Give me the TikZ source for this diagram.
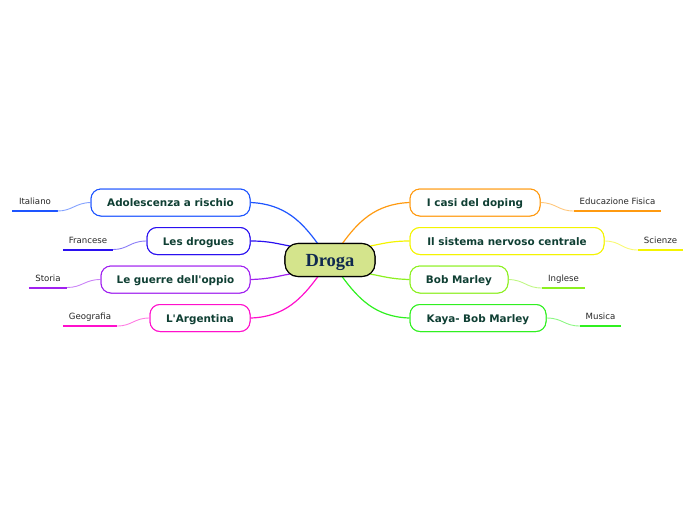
\documentclass[tikz,border=0pt]{standalone}
\usepackage{fontspec}
\setmainfont{DejaVu Sans}
\newfontfamily\nodefont{DejaVu Sans}
\newfontfamily\titlefont{Liberation Serif}
\definecolor{cBlue}{HTML}{1E55FF}
\definecolor{cIndigo}{HTML}{2A10F0}
\definecolor{cPurple}{HTML}{A020F0}
\definecolor{cMagenta}{HTML}{FF10CC}
\definecolor{cOrange}{HTML}{FF9A10}
\definecolor{cYellow}{HTML}{F4F400}
\definecolor{cLime}{HTML}{8CF020}
\definecolor{cGreen}{HTML}{30F020}
\definecolor{txt}{HTML}{0F3F33}
\definecolor{titletxt}{HTML}{10294F}
\definecolor{centerfill}{HTML}{D4E48C}
\tikzset{
  topic/.style={draw=#1, line width=1pt, rounded corners=10pt, fill=white,
    minimum height=27pt, inner sep=0pt, text=txt, text height=10pt, text depth=1.6pt,
    font=\nodefont\fontsize{10.4}{12}\selectfont\bfseries},
  center/.style={draw=black, line width=1.1pt, fill=centerfill, rounded corners=13pt,
    minimum width=90pt, minimum height=33pt, inner sep=0pt, text height=13pt, text depth=1pt,
    font=\titlefont\fontsize{18.5}{21}\selectfont\bfseries, text=titletxt},
  link/.style={draw=#1, line width=1.2pt},
  leaf/.style={inner xsep=0pt, inner ysep=0pt, text height=6pt, text depth=6pt,
    font=\fontsize{8.6}{10}\selectfont, text=black!85},
  uline/.style={draw=#1, line width=2pt},
  thin/.style={draw=#1!55, line width=0.9pt}
}
\begin{document}
\begin{tikzpicture}[x=1pt,y=-1pt]
\useasboundingbox (0,0) rectangle (696,520);
% central
\node[center] (droga) at (330,260) {Droga};
% topic nodes left
\node[topic=cBlue, minimum width=159pt] (adol) at (170.5,202.5) {Adolescenza a rischio};
\node[topic=cIndigo, minimum width=103pt] (drog) at (198.5,241) {Les drogues};
\node[topic=cPurple, minimum width=149pt] (guer) at (175.5,279.5) {Le guerre dell'oppio};
\node[topic=cMagenta, minimum width=100pt] (arg) at (200,318) {L'Argentina};
% topic nodes right
\node[topic=cOrange, minimum width=130pt] (dop) at (475,202.5) {I casi del doping};
\node[topic=cYellow, minimum width=194pt] (sis) at (507,241) {Il sistema nervoso centrale};
\node[topic=cLime, minimum width=98pt] (bob) at (459,279.5) {Bob Marley};
\node[topic=cGreen, minimum width=136pt] (kaya) at (478,318) {Kaya- Bob Marley};
% attach points on central node
\coordinate (d1) at (318,244);
\coordinate (d2) at (290,246);
\coordinate (d3) at (290,274);
\coordinate (d4) at (318,276.5);
\coordinate (d5) at (342,244);
\coordinate (d6) at (370,246);
\coordinate (d7) at (370,274);
\coordinate (d8) at (342,276.5);
% main connectors
\draw[link=cBlue] (adol.east) .. controls (285,204) and (302,222) .. (d1);
\draw[link=cIndigo] (drog.east) .. controls (270,241) and (278,244) .. (d2);
\draw[link=cPurple] (guer.east) .. controls (270,279) and (278,276) .. (d3);
\draw[link=cMagenta] (arg.east) .. controls (285,317) and (302,298) .. (d4);
\draw[link=cOrange] (dop.west) .. controls (375,204) and (358,222) .. (d5);
\draw[link=cYellow] (sis.west) .. controls (390,241) and (382,244) .. (d6);
\draw[link=cLime] (bob.west) .. controls (390,279) and (382,276) .. (d7);
\draw[link=cGreen] (kaya.west) .. controls (375,317) and (358,298) .. (d8);
% leaves
\node[leaf, minimum width=45pt, anchor=south] (ita) at (35,211) {Italiano};
\node[leaf, minimum width=50pt, anchor=south] (fra) at (88,249.5) {Francese};
\node[leaf, minimum width=38pt, anchor=south] (sto) at (48,287.5) {Storia};
\node[leaf, minimum width=54pt, anchor=south] (geo) at (90,326) {Geografia};
\node[leaf, minimum width=87pt, anchor=south] (edu) at (617.5,211) {Educazione Fisica};
\node[leaf, minimum width=45pt, anchor=south] (sci) at (660.5,250) {Scienze};
\node[leaf, minimum width=43pt, anchor=south] (ing) at (563.5,288) {Inglese};
\node[leaf, minimum width=41pt, anchor=south] (mus) at (600.5,326) {Musica};
% underlines
\draw[uline=cBlue] (ita.south west) -- (ita.south east);
\draw[uline=cIndigo] (fra.south west) -- (fra.south east);
\draw[uline=cPurple] (sto.south west) -- (sto.south east);
\draw[uline=cMagenta] (geo.south west) -- (geo.south east);
\draw[uline=cOrange] (edu.south west) -- (edu.south east);
\draw[uline=cYellow] (sci.south west) -- (sci.south east);
\draw[uline=cLime] (ing.south west) -- (ing.south east);
\draw[uline=cGreen] (mus.south west) -- (mus.south east);
% leaf connectors
\draw[thin=cBlue] (adol.west) .. controls (75,203) and (72,211) .. (ita.south east);
\draw[thin=cIndigo] (drog.west) .. controls (130,241) and (128,249.5) .. (fra.south east);
\draw[thin=cPurple] (guer.west) .. controls (85,279.5) and (82,287.5) .. (sto.south east);
\draw[thin=cMagenta] (arg.west) .. controls (134,318) and (132,326) .. (geo.south east);
\draw[thin=cOrange] (dop.east) .. controls (557,203) and (558,211) .. (edu.south west);
\draw[thin=cYellow] (sis.east) .. controls (621,241) and (622,250) .. (sci.south west);
\draw[thin=cLime] (bob.east) .. controls (525,280) and (526,288) .. (ing.south west);
\draw[thin=cGreen] (kaya.east) .. controls (563,318) and (564,326) .. (mus.south west);
% redraw nodes on top of connectors
\node[topic=cBlue, minimum width=159pt] at (adol) {Adolescenza a rischio};
\node[topic=cIndigo, minimum width=103pt] at (drog) {Les drogues};
\node[topic=cPurple, minimum width=149pt] at (guer) {Le guerre dell'oppio};
\node[topic=cMagenta, minimum width=100pt] at (arg) {L'Argentina};
\node[topic=cOrange, minimum width=130pt] at (dop) {I casi del doping};
\node[topic=cYellow, minimum width=194pt] at (sis) {Il sistema nervoso centrale};
\node[topic=cLime, minimum width=98pt] at (bob) {Bob Marley};
\node[topic=cGreen, minimum width=136pt] at (kaya) {Kaya- Bob Marley};
\node[center] at (droga) {Droga};
\end{tikzpicture}
\end{document}
